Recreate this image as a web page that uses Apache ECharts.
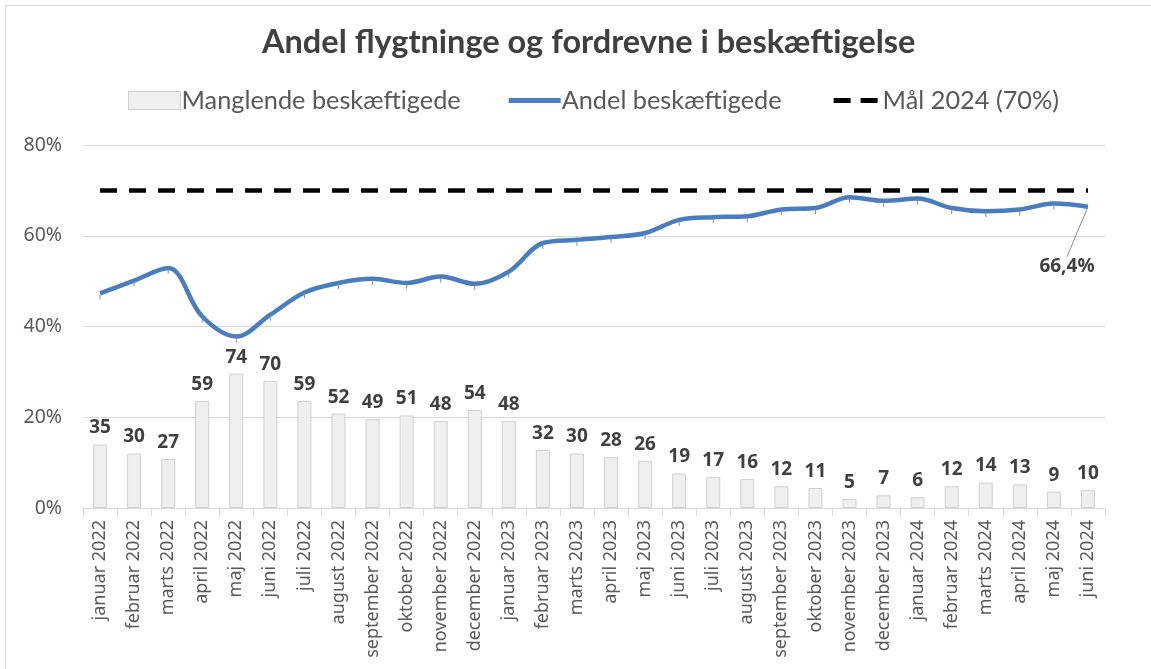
<!DOCTYPE html>
<html>
<head>
<meta charset="utf-8">
<script src="https://cdn.jsdelivr.net/npm/echarts@6/dist/echarts.min.js"></script>
<style>
html,body{margin:0;padding:0;background:#fff;}
#frame{position:absolute;left:5px;top:5px;width:1200px;height:700px;border:1px solid #d9d9d9;}
#chart{position:absolute;left:0;top:0;width:1151px;height:669px;}
</style>
</head>
<body>
<div id="frame"></div>
<div id="chart"></div>
<script>
const categories = [
  'januar 2022','februar 2022','marts 2022','april 2022','maj 2022','juni 2022','juli 2022','august 2022','september 2022','oktober 2022','november 2022','december 2022',
  'januar 2023','februar 2023','marts 2023','april 2023','maj 2023','juni 2023','juli 2023','august 2023','september 2023','oktober 2023','november 2023','december 2023',
  'januar 2024','februar 2024','marts 2024','april 2024','maj 2024','juni 2024'
];
const manglende = [35,30,27,59,74,70,59,52,49,51,48,54,48,32,30,28,26,19,17,16,12,11,5,7,6,12,14,13,9,10];
const andel = [47.3,50.1,52.9,42.2,37.8,42.6,47.5,49.6,50.5,49.6,51.0,49.4,52.1,58.4,59.1,59.7,60.6,63.5,64.1,64.3,65.8,66.1,68.5,67.7,68.2,66.1,65.4,65.8,67.1,66.4];
const maal = categories.map(() => 70);
const yTicks = [0,20,40,60,80];

const txt = '#595959';
const blue = '#4a7dbd';
const axisFont = 'Noto Sans';
// legend icons: tiny invisible corner marks keep a 52x18 box
const corners = 'M0,0h0.01v0.01h-0.01z M51.99,17.99h0.01v0.01h-0.01z ';
const lineIcon = 'path://' + corners + 'M0,6.5h52v5h-52z';
const dashIcon = 'path://' + corners + 'M4,6.5h17v5h-17z M31,6.5h17v5h-17z';

const chart = echarts.init(document.getElementById('chart'));
chart.setOption({
  animation:false,
  title:{
    text:'Andel flygtninge og fordrevne i beskæftigelse',
    left:257, top:21,
    textStyle:{fontFamily:'Lato', fontWeight:'bold', fontSize:32.5, color:'#404040'}
  },
  legend:{
    top:83, left:123, itemGap:48, itemWidth:52, itemHeight:18,
    textStyle:{fontFamily:'Lato', fontSize:25.3, color:txt, padding:[0,0,0,-4]},
    data:[
      {name:'Manglende beskæftigede', icon:'rect', itemStyle:{color:'#efefef', borderColor:'#d0d0d0', borderWidth:1}},
      {name:'Andel beskæftigede', icon:lineIcon, itemStyle:{color:blue, borderWidth:0, opacity:1}},
      {name:'Mål 2024 (70%)', icon:dashIcon, itemStyle:{color:'#000', borderWidth:0}}
    ]
  },
  grid:{left:83, right:46, top:145, bottom:161},
  xAxis:{
    type:'category', data:categories, boundaryGap:true,
    axisLine:{lineStyle:{color:'#d9d9d9'}},
    axisTick:{show:true, length:8, lineStyle:{color:'#d9d9d9'}},
    axisLabel:{rotate:90, interval:0, fontFamily:axisFont, fontSize:18, color:txt, margin:12}
  },
  yAxis:[
    {type:'value', min:yTicks[0], max:yTicks[yTicks.length-1], interval:20,
     axisLabel:{formatter:'{value}%', fontFamily:axisFont, fontSize:19.5, color:txt, margin:21},
     axisLine:{show:false}, axisTick:{show:false},
     splitLine:{lineStyle:{color:'#d9d9d9', width:1}}},
    {type:'value', min:0, max:200, show:false, splitLine:{show:false}}
  ],
  series:[
    {name:'Manglende beskæftigede', type:'bar', yAxisIndex:1, data:manglende, barWidth:14,
     itemStyle:{color:'#efefef', borderColor:'#d0d0d0', borderWidth:1},
     label:{show:true, position:'top', distance:7, fontFamily:axisFont, fontWeight:'bold', fontSize:19, color:'#404040'}},
    {name:'Andel beskæftigede', type:'line', data:andel, smooth:0.35,
     symbol:'circle', symbolSize:2, showSymbol:true, showAllSymbol:true,
     lineStyle:{color:blue, width:4.5}, itemStyle:{color:blue, opacity:0},
     label:{show:true, opacity:1, position:'bottom', distance:5, fontFamily:axisFont, fontWeight:'bold', fontSize:19, color:'#404040',
       formatter:p => p.dataIndex === andel.length-1 ? p.value.toFixed(1).replace('.', ',') + '%' : ''},
     labelLayout:p => p.dataIndex === andel.length-1 ? {dx:-21, dy:44} : {},
     labelLine:{show:true, lineStyle:{color:'#8c8c8c', width:1}},
     emphasis:{disabled:true},
     z:3},
    {name:'Mål 2024 (70%)', type:'line', data:maal, symbol:'none',
     lineStyle:{color:'#000', width:4.5, type:[17,12]}, itemStyle:{color:'#000'}, z:2}
  ]
});
</script>
</body>
</html>
